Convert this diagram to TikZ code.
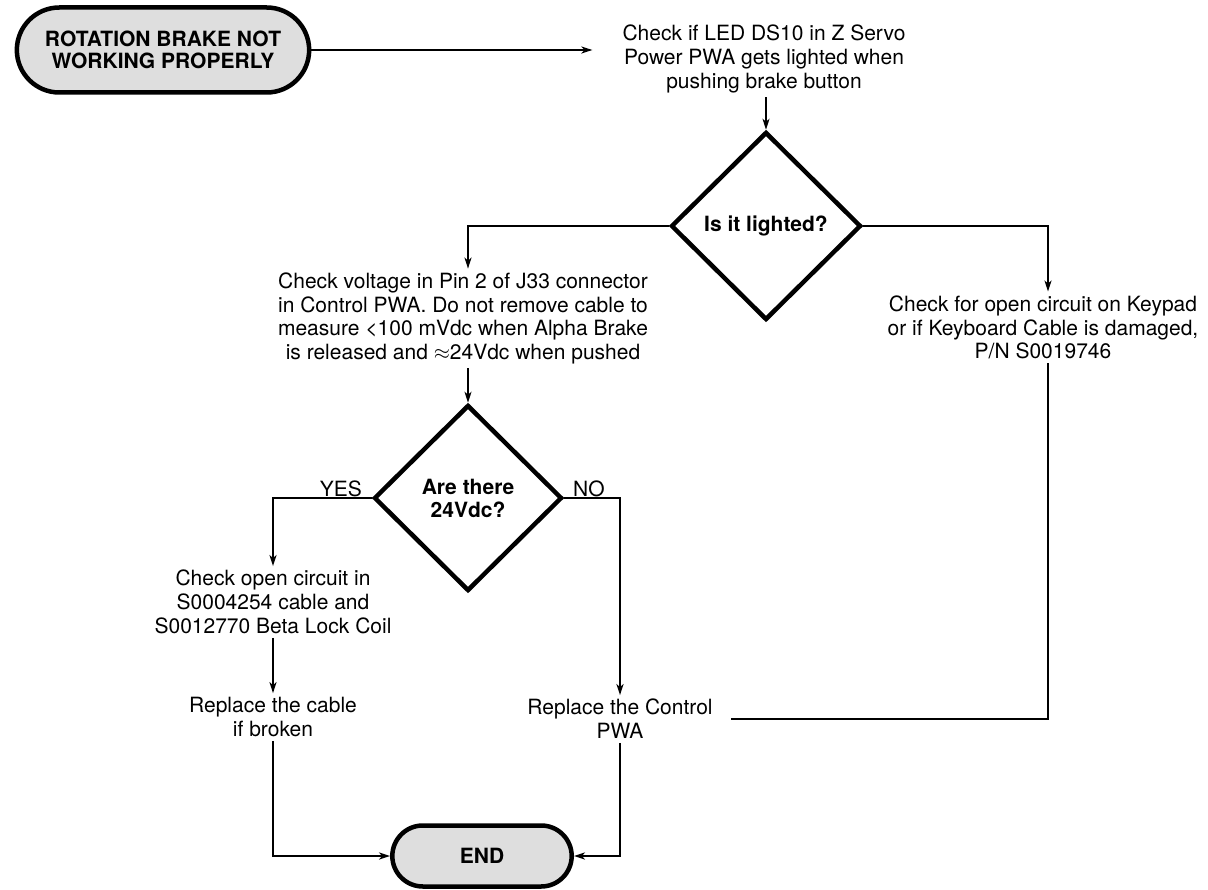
\documentclass[tikz,border=0pt]{standalone}
\usepackage{fontspec}
\setmainfont{TeX Gyre Heros}
\usetikzlibrary{shapes.geometric,shapes.misc,arrows.meta,calc}
\definecolor{termfill}{RGB}{222,222,222}
\begin{document}
\begin{tikzpicture}[x=1pt,y=-1pt,
  txt/.style={align=center,inner sep=4pt,font=\fontsize{21}{23.7}\selectfont},
  lbl/.style={inner sep=0pt,font=\fontsize{21}{23.7}\selectfont},
  term/.style={rounded rectangle,draw,line width=4.5pt,fill=termfill,align=center,
    font=\bfseries\fontsize{21}{22.5}\selectfont},
  decision/.style={diamond,draw,line width=4.5pt,fill=white,align=center,inner sep=0pt,
    font=\bfseries\fontsize{21}{23}\selectfont},
  link/.style={line width=1.8pt},
  arr/.style={link,-{Stealth[length=11pt,width=7pt,inset=3pt]}}]
\useasboundingbox (0,0) rectangle (1208,890);

% terminals
\node[term,minimum width=299pt,minimum height=85pt] (start) at (163,50)
  {ROTATION BRAKE NOT\\WORKING PROPERLY};
\node[term,minimum width=186pt,minimum height=61pt] (end) at (482,856) {END};

% decisions
\node[decision,minimum width=190pt,minimum height=188pt] (d1) at (766,226) {Is it lighted?};
\node[decision,minimum width=188pt,minimum height=186pt] (d2) at (468,498) {Are there\\24Vdc?};

% process steps
\node[txt] (tTop) at (764,59)
  {Check if LED DS10 in Z Servo\\Power PWA gets lighted when\\pushing brake button};
\node[txt] (tLeft) at (463,318.5)
  {Check voltage in Pin 2 of J33 connector\\in Control PWA. Do not remove cable to\\measure <100 mVdc when Alpha Brake\\is released and $\approx$24Vdc when pushed};
\node[txt] (tRight) at (1043,327.5)
  {Check for open circuit on Keypad\\or if Keyboard Cable is damaged,\\P/N S0019746};
\node[txt] (tCoil) at (273,602)
  {Check open circuit in\\S0004254 cable and\\S0012770 Beta Lock Coil};
\node[txt] (tCable) at (273,717) {Replace the cable\\if broken};
\node[txt] (tCtrl) at (620,719) {Replace the Control\\PWA};

% branch labels
\node[lbl,anchor=base east] (yes) at (362,496.5) {YES};
\node[lbl,anchor=base west] (no) at (573,496.5) {NO};

% connectors
\draw[arr] (start.east) -- ($(tTop.west |- start.east)+(-26,0)$);
\draw[arr] (tTop.south -| d1.north) -- (d1.north);
\draw[arr] (d1.west) -| ($(tLeft.north)+(5,0)$);
\draw[arr] ($(tLeft.south)+(5,0)$) -- (d2.north);
\draw[arr] (d1.east) -| ($(tRight.north)+(5,0)$);
\draw[link] ($(tRight.south)+(5,0)$) |- ($(tCtrl.east)+(14,0)$);
\draw[arr] (d2.west) -| (tCoil.north);
\draw[arr] (tCoil.south) -- (tCable.north);
\draw[arr] (tCable.south) |- (end.west);
\draw[arr] (d2.east) -| (tCtrl.north);
\draw[arr] (tCtrl.south) |- (end.east);
\end{tikzpicture}
\end{document}
